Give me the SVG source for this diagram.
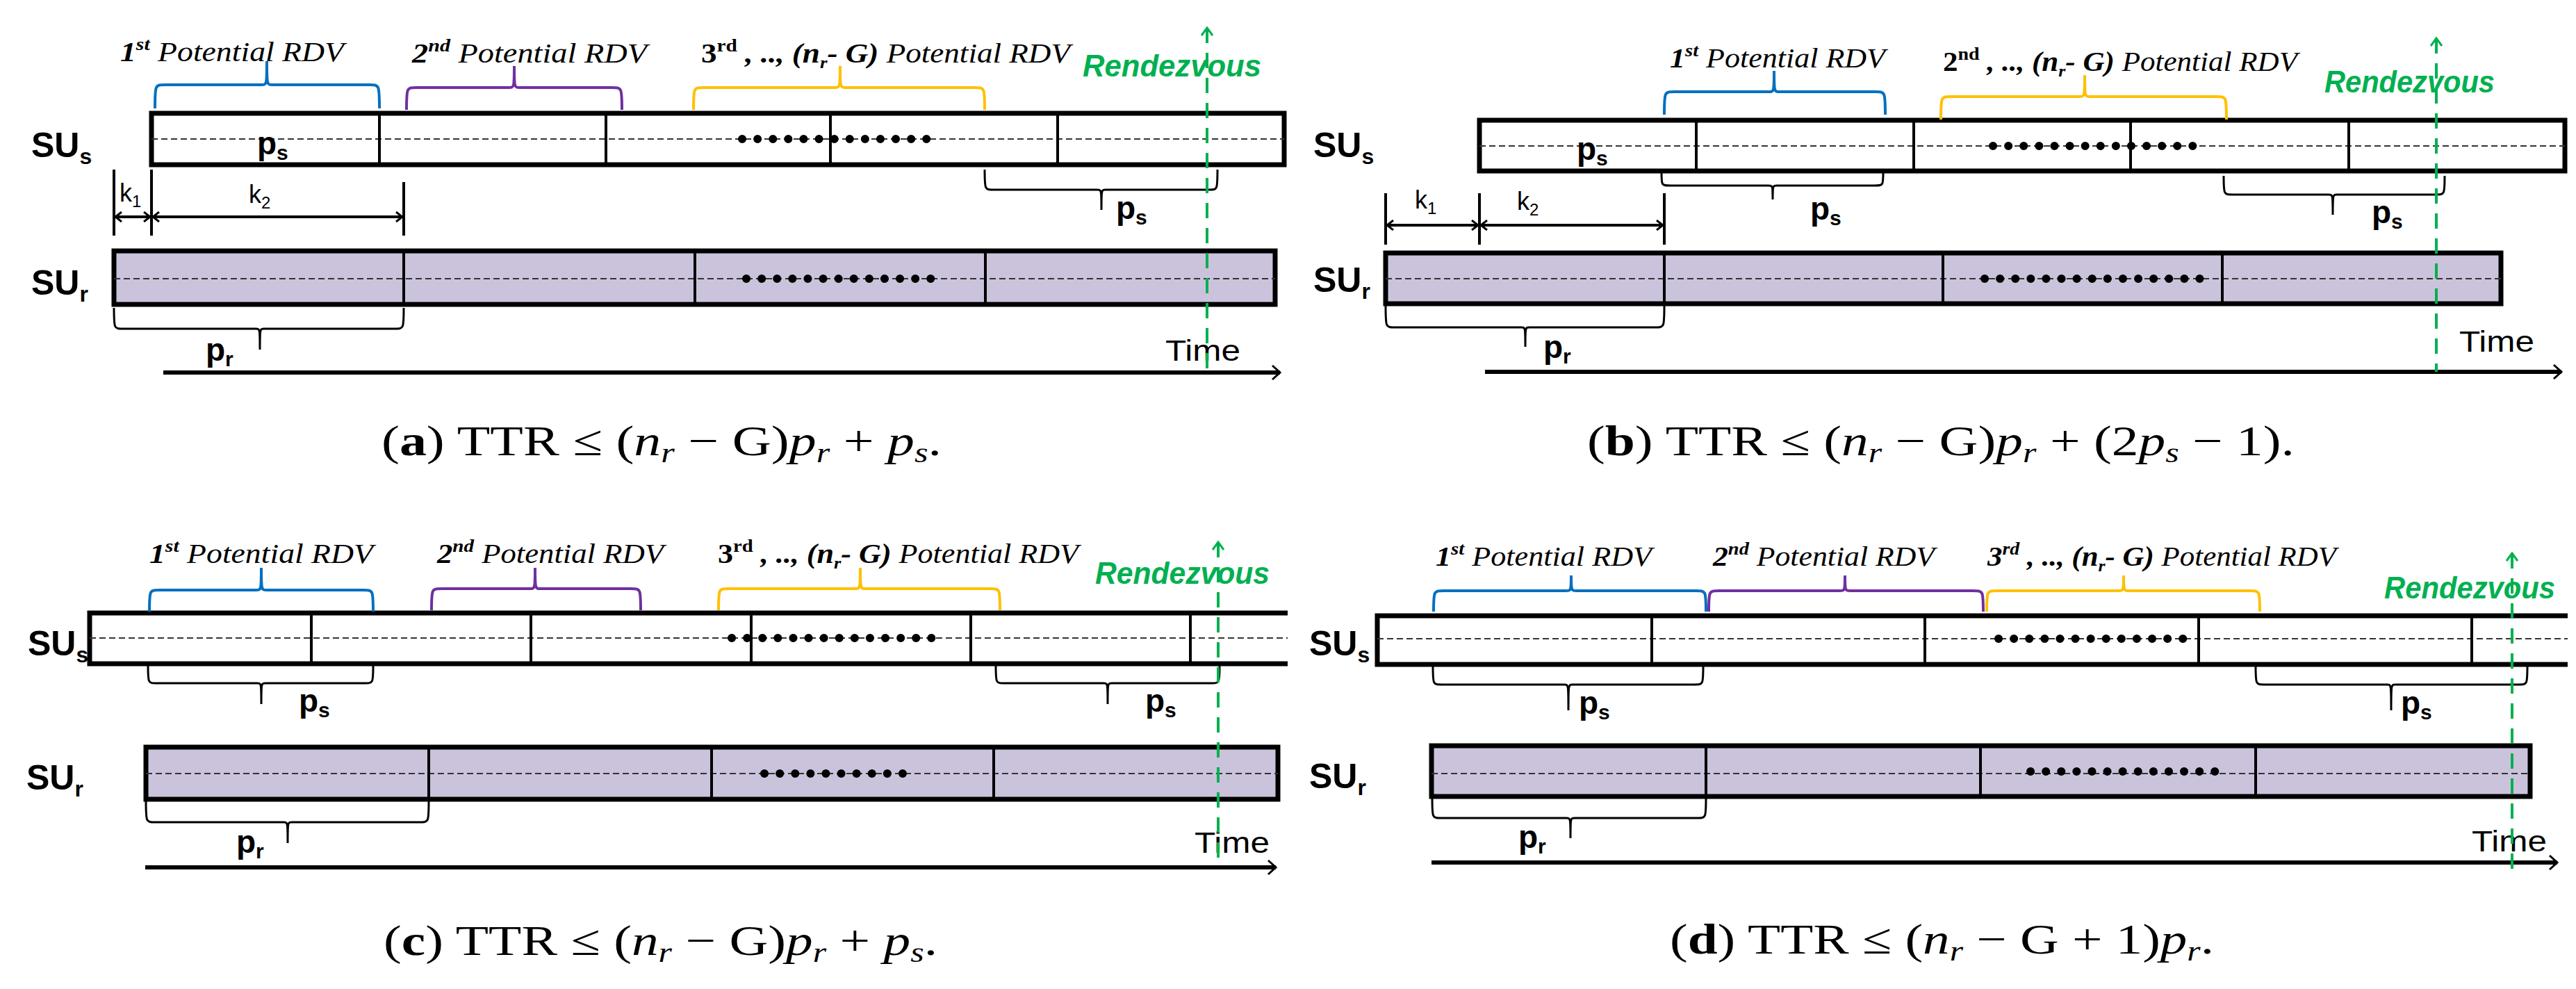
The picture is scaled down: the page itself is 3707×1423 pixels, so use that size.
<svg xmlns="http://www.w3.org/2000/svg" width="3707" height="1423" viewBox="0 0 3707 1423">
<style>
.bar{stroke:#000;stroke-width:7}
.div{stroke:#000;stroke-width:4}
.mid{stroke:#333;stroke-width:2;stroke-dasharray:9 5}
.dots{stroke:#000;stroke-width:12;stroke-dasharray:0.1 22;stroke-linecap:round}
.br{fill:none;stroke-width:4}
.bk{stroke:#000;fill:none;stroke-width:3}
.lab{font-family:"Liberation Sans",sans-serif;font-weight:bold;font-size:50px}
.pl{font-family:"Liberation Sans",sans-serif;font-weight:bold;font-size:46px}
.rdv{font-family:"Liberation Serif",serif;font-style:italic;font-size:40px}
.ren{font-family:"Liberation Sans",sans-serif;font-weight:bold;font-style:italic;font-size:44px;fill:#00b050}
.time{font-family:"Liberation Sans",sans-serif;font-size:42px}
.cap{font-family:"Liberation Serif",serif;font-size:62px}
.k{font-family:"Liberation Sans",sans-serif;font-size:36px}
.grn{stroke:#00b050;stroke-width:4;stroke-dasharray:22 14}
.ax{stroke:#000;stroke-width:6}
</style>
<defs>
<marker id="ch" markerWidth="12" markerHeight="16" refX="10" refY="8" orient="auto-start-reverse" markerUnits="userSpaceOnUse"><path d="M1,1 L10,8 L1,15" fill="none" stroke="#000" stroke-width="3"/></marker>
<marker id="chs" markerWidth="16" markerHeight="24" refX="13" refY="12" orient="auto-start-reverse" markerUnits="userSpaceOnUse"><path d="M2,2 L13,12 L2,22" fill="none" stroke="#000" stroke-width="3"/></marker>
<marker id="gch" markerWidth="14" markerHeight="18" refX="12" refY="9" orient="auto-start-reverse" markerUnits="userSpaceOnUse"><path d="M1,1 L12,9 L1,17" fill="none" stroke="#00b050" stroke-width="3"/></marker>
</defs>

<!-- Panel A -->
<g id="panelA">
<g id="a-sus"><rect x="218" y="163" width="1630" height="74" fill="#fff" class="bar"/>
<line class="mid" x1="218" y1="200" x2="1848" y2="200"/>
<line class="div" x1="546" y1="163" x2="546" y2="237"/><line class="div" x1="872" y1="163" x2="872" y2="237"/><line class="div" x1="1195" y1="163" x2="1195" y2="237"/><line class="div" x1="1522" y1="163" x2="1522" y2="237"/>
<line class="dots" x1="1068" y1="200" x2="1340" y2="200"/>
<text class="pl" x="370" y="222">p<tspan font-size="30" dy="8">s</tspan></text>
<text class="lab" x="45" y="226">SU<tspan font-size="32" dy="10">s</tspan></text></g>
<g id="a-sur"><rect x="164" y="361" width="1671" height="77" fill="#cbc3dc" class="bar"/>
<line class="mid" x1="164" y1="401" x2="1835" y2="401"/>
<line class="div" x1="581" y1="361" x2="581" y2="438"/><line class="div" x1="1000" y1="361" x2="1000" y2="438"/><line class="div" x1="1418" y1="361" x2="1418" y2="438"/>
<line class="dots" x1="1074" y1="401" x2="1345" y2="401"/>
<text class="lab" x="45" y="424">SU<tspan font-size="32" dy="10">r</tspan></text></g>
<g id="a-braces">
<path class="br" stroke="#0070c0" d="M223,156 C223,122 223,122 238,122 H376 C384,122 384,122 384,88 C384,122 384,122 392,122 H531 C546,122 546,122 546,156"/>
<path class="br" stroke="#7030a0" d="M585,158 C585,126 585,126 600,126 H732 C740,126 740,126 740,95 C740,126 740,126 748,126 H880 C895,126 895,126 895,158"/>
<path class="br" stroke="#ffc000" d="M998,158 C998,126 998,126 1013,126 H1201 C1209,126 1209,126 1209,95 C1209,126 1209,126 1217,126 H1402 C1417,126 1417,126 1417,158"/>
<text class="rdv" x="173" y="88" textLength="322" lengthAdjust="spacingAndGlyphs"><tspan font-weight="bold">1</tspan><tspan font-weight="bold" font-size="26" dy="-16">st</tspan><tspan dy="16"> Potential RDV</tspan></text>
<text class="rdv" x="593" y="90" textLength="338" lengthAdjust="spacingAndGlyphs"><tspan font-weight="bold">2</tspan><tspan font-weight="bold" font-size="26" dy="-16">nd</tspan><tspan dy="16"> Potential RDV</tspan></text>
<text class="rdv" x="1009" y="90" textLength="531" lengthAdjust="spacingAndGlyphs"><tspan font-weight="bold" font-style="normal">3</tspan><tspan font-weight="bold" font-style="normal" font-size="26" dy="-16">rd</tspan><tspan font-weight="bold" dy="16"> , .., (n</tspan><tspan font-weight="bold" font-size="24" dy="8">r</tspan><tspan font-weight="bold" dy="-8">- G)</tspan><tspan> Potential RDV</tspan></text>
<path class="bk" d="M1417,244 C1417,273 1417,273 1430,273 H1579 C1585,273 1585,273 1585,302 C1585,273 1585,273 1591,273 H1740 C1752,273 1752,273 1752,244"/>
<text class="pl" x="1606" y="315">p<tspan font-size="30" dy="8">s</tspan></text>
<path class="bk" d="M164,443 C164,473 164,473 177,473 H368 C374,473 374,473 374,503 C374,473 374,473 380,473 H568 C581,473 581,473 581,443"/>
<text class="pl" x="296" y="519">p<tspan font-size="30" dy="8">r</tspan></text>
</g>
<g id="a-k"><line class="div" x1="164" y1="244" x2="164" y2="339" stroke-width="3"/><line class="div" x1="218" y1="244" x2="218" y2="339" stroke-width="3"/><line class="div" x1="581" y1="262" x2="581" y2="339" stroke-width="3"/>
<line x1="166" y1="312" x2="216" y2="312" stroke="#000" stroke-width="4" marker-start="url(#ch)" marker-end="url(#ch)"/>
<line x1="220" y1="312" x2="579" y2="312" stroke="#000" stroke-width="4" marker-start="url(#ch)" marker-end="url(#ch)"/>
<text class="k" x="172" y="290">k<tspan font-size="24" dy="8">1</tspan></text>
<text class="k" x="358" y="292">k<tspan font-size="24" dy="8">2</tspan></text></g>
<g id="a-time"><line class="ax" x1="235" y1="536" x2="1842" y2="536" marker-end="url(#chs)"/><text class="time" x="1677" y="519" textLength="108" lengthAdjust="spacingAndGlyphs">Time</text></g>
<g id="a-rdv"><line class="grn" x1="1737" y1="40" x2="1737" y2="537" marker-start="url(#gch)"/><text class="ren" x="1558" y="110" textLength="257" lengthAdjust="spacingAndGlyphs">Rendezvous</text></g>
<text class="cap" x="549" y="655" textLength="806" lengthAdjust="spacingAndGlyphs">(<tspan font-weight="bold">a</tspan>) TTR ≤ (<tspan font-style="italic">n</tspan><tspan font-style="italic" font-size="40" dy="10">r</tspan><tspan dy="-10"> − G)</tspan><tspan font-style="italic">p</tspan><tspan font-style="italic" font-size="40" dy="10">r</tspan><tspan dy="-10"> + </tspan><tspan font-style="italic">p</tspan><tspan font-style="italic" font-size="40" dy="10">s</tspan><tspan dy="-10">.</tspan></text>
</g>

<!-- Panel B -->
<g id="panelB">
<g id="b-sus"><rect x="2129" y="173" width="1562" height="73" fill="#fff" class="bar"/>
<line class="mid" x1="2129" y1="210" x2="3691" y2="210"/>
<line class="div" x1="2441" y1="173" x2="2441" y2="246" stroke-width="6"/><line class="div" x1="2754" y1="173" x2="2754" y2="246"/><line class="div" x1="3066" y1="173" x2="3066" y2="246"/><line class="div" x1="3380" y1="173" x2="3380" y2="246"/>
<line class="dots" x1="2868" y1="210" x2="3160" y2="210"/>
<text class="pl" x="2269" y="230">p<tspan font-size="30" dy="8">s</tspan></text>
<text class="lab" x="1890" y="226">SU<tspan font-size="32" dy="10">s</tspan></text></g>
<g id="b-sur"><rect x="1994" y="364" width="1605" height="73" fill="#cbc3dc" class="bar"/>
<line class="mid" x1="1994" y1="401" x2="3599" y2="401"/>
<line class="div" x1="2395" y1="364" x2="2395" y2="437"/><line class="div" x1="2796" y1="364" x2="2796" y2="437"/><line class="div" x1="3198" y1="364" x2="3198" y2="437"/>
<line class="dots" x1="2856" y1="401" x2="3166" y2="401"/>
<text class="lab" x="1890" y="420">SU<tspan font-size="32" dy="10">r</tspan></text></g>
<g id="b-braces">
<path class="br" stroke="#0070c0" d="M2395,165 C2395,132 2395,132 2410,132 H2545 C2553,132 2553,132 2553,102 C2553,132 2553,132 2561,132 H2698 C2713,132 2713,132 2713,165"/>
<path class="br" stroke="#ffc000" d="M2793,172 C2793,139 2793,139 2808,139 H2992 C3000,139 3000,139 3000,108 C3000,139 3000,139 3008,139 H3189 C3204,139 3204,139 3204,172"/>
<text class="rdv" x="2403" y="97" textLength="310" lengthAdjust="spacingAndGlyphs"><tspan font-weight="bold">1</tspan><tspan font-weight="bold" font-size="26" dy="-16">st</tspan><tspan dy="16"> Potential RDV</tspan></text>
<text class="rdv" x="2796" y="102" textLength="510" lengthAdjust="spacingAndGlyphs"><tspan font-weight="bold" font-style="normal">2</tspan><tspan font-weight="bold" font-style="normal" font-size="26" dy="-16">nd</tspan><tspan font-weight="bold" dy="16"> , .., (n</tspan><tspan font-weight="bold" font-size="24" dy="8">r</tspan><tspan font-weight="bold" dy="-8">- G)</tspan><tspan> Potential RDV</tspan></text>
<path class="bk" d="M2391,248 C2391,267 2391,267 2404,267 H2545 C2551,267 2551,267 2551,287 C2551,267 2551,267 2557,267 H2697 C2710,267 2710,267 2710,248"/>
<text class="pl" x="2605" y="316">p<tspan font-size="30" dy="8">s</tspan></text>
<path class="bk" d="M3200,253 C3200,280 3200,280 3213,280 H3351 C3357,280 3357,280 3357,309 C3357,280 3357,280 3363,280 H3505 C3518,280 3518,280 3518,253"/>
<text class="pl" x="3413" y="321">p<tspan font-size="30" dy="8">s</tspan></text>
<path class="bk" d="M1994,440 C1994,471 1994,471 2007,471 H2189 C2195,471 2195,471 2195,499 C2195,471 2195,471 2201,471 H2382 C2395,471 2395,471 2395,440"/>
<text class="pl" x="2221" y="515">p<tspan font-size="30" dy="8">r</tspan></text>
</g>
<g id="b-k"><line class="div" x1="1994" y1="278" x2="1994" y2="352" stroke-width="3"/><line class="div" x1="2129" y1="278" x2="2129" y2="352" stroke-width="3"/><line class="div" x1="2395" y1="278" x2="2395" y2="352" stroke-width="3"/>
<line x1="1996" y1="324" x2="2127" y2="324" stroke="#000" stroke-width="4" marker-start="url(#ch)" marker-end="url(#ch)"/>
<line x1="2131" y1="324" x2="2393" y2="324" stroke="#000" stroke-width="4" marker-start="url(#ch)" marker-end="url(#ch)"/>
<text class="k" x="2036" y="300">k<tspan font-size="24" dy="8">1</tspan></text>
<text class="k" x="2183" y="302">k<tspan font-size="24" dy="8">2</tspan></text></g>
<g id="b-time"><line class="ax" x1="2137" y1="535" x2="3686" y2="535" marker-end="url(#chs)"/><text class="time" x="3539" y="506" textLength="108" lengthAdjust="spacingAndGlyphs">Time</text></g>
<g id="b-rdv"><line class="grn" x1="3506" y1="55" x2="3506" y2="535" marker-start="url(#gch)"/><text class="ren" x="3345" y="133" textLength="245" lengthAdjust="spacingAndGlyphs">Rendezvous</text></g>
<text class="cap" x="2284" y="655" textLength="1018" lengthAdjust="spacingAndGlyphs">(<tspan font-weight="bold">b</tspan>) TTR ≤ (<tspan font-style="italic">n</tspan><tspan font-style="italic" font-size="40" dy="10">r</tspan><tspan dy="-10"> − G)</tspan><tspan font-style="italic">p</tspan><tspan font-style="italic" font-size="40" dy="10">r</tspan><tspan dy="-10"> + (2</tspan><tspan font-style="italic">p</tspan><tspan font-style="italic" font-size="40" dy="10">s</tspan><tspan dy="-10"> − 1).</tspan></text>
</g>

<!-- Panel C -->
<g id="panelC">
<g id="c-sus"><rect x="129" y="882" width="1724" height="73" fill="#fff"/>
<path d="M1853,882 H129 V955 H1853" fill="none" class="bar"/>
<line class="mid" x1="129" y1="918" x2="1853" y2="918"/>
<line class="div" x1="448" y1="882" x2="448" y2="955"/><line class="div" x1="764" y1="882" x2="764" y2="955"/><line class="div" x1="1081" y1="882" x2="1081" y2="955"/><line class="div" x1="1397" y1="882" x2="1397" y2="955"/><line class="div" x1="1713" y1="882" x2="1713" y2="955"/>
<line class="dots" x1="1053" y1="918" x2="1358" y2="918"/>
<text class="lab" x="40" y="943">SU<tspan font-size="32" dy="10">s</tspan></text></g>
<g id="c-sur"><rect x="210" y="1075" width="1629" height="75" fill="#cbc3dc" class="bar"/>
<line class="mid" x1="210" y1="1113" x2="1839" y2="1113"/>
<line class="div" x1="617" y1="1075" x2="617" y2="1150"/><line class="div" x1="1024" y1="1075" x2="1024" y2="1150"/><line class="div" x1="1430" y1="1075" x2="1430" y2="1150"/>
<line class="dots" x1="1100" y1="1113" x2="1306" y2="1113"/>
<text class="lab" x="38" y="1136">SU<tspan font-size="32" dy="10">r</tspan></text></g>
<g id="c-braces">
<path class="br" stroke="#0070c0" d="M215,880 C215,849 215,849 230,849 H368 C376,849 376,849 376,817 C376,849 376,849 384,849 H522 C537,849 537,849 537,880"/>
<path class="br" stroke="#7030a0" d="M621,878 C621,847 621,847 636,847 H762 C770,847 770,847 770,817 C770,847 770,847 778,847 H907 C922,847 922,847 922,878"/>
<path class="br" stroke="#ffc000" d="M1034,878 C1034,847 1034,847 1049,847 H1230 C1238,847 1238,847 1238,817 C1238,847 1238,847 1246,847 H1424 C1439,847 1439,847 1439,878"/>
<text class="rdv" x="215" y="810" textLength="322" lengthAdjust="spacingAndGlyphs"><tspan font-weight="bold">1</tspan><tspan font-weight="bold" font-size="26" dy="-16">st</tspan><tspan dy="16"> Potential RDV</tspan></text>
<text class="rdv" x="629" y="810" textLength="326" lengthAdjust="spacingAndGlyphs"><tspan font-weight="bold">2</tspan><tspan font-weight="bold" font-size="26" dy="-16">nd</tspan><tspan dy="16"> Potential RDV</tspan></text>
<text class="rdv" x="1033" y="810" textLength="519" lengthAdjust="spacingAndGlyphs"><tspan font-weight="bold" font-style="normal">3</tspan><tspan font-weight="bold" font-style="normal" font-size="26" dy="-16">rd</tspan><tspan font-weight="bold" dy="16"> , .., (n</tspan><tspan font-weight="bold" font-size="24" dy="8">r</tspan><tspan font-weight="bold" dy="-8">- G)</tspan><tspan> Potential RDV</tspan></text>
<path class="bk" d="M213,958 C213,983 213,983 226,983 H370 C376,983 376,983 376,1013 C376,983 376,983 382,983 H524 C537,983 537,983 537,958"/>
<text class="pl" x="430" y="1024">p<tspan font-size="30" dy="8">s</tspan></text>
<path class="bk" d="M1433,958 C1433,983 1433,983 1446,983 H1588 C1594,983 1594,983 1594,1013 C1594,983 1594,983 1600,983 H1742 C1755,983 1755,983 1755,958"/>
<text class="pl" x="1648" y="1024">p<tspan font-size="30" dy="8">s</tspan></text>
<path class="bk" d="M210,1152 C210,1183 210,1183 223,1183 H408 C414,1183 414,1183 414,1213 C414,1183 414,1183 420,1183 H604 C617,1183 617,1183 617,1152"/>
<text class="pl" x="340" y="1227">p<tspan font-size="30" dy="8">r</tspan></text>
</g>
<g id="c-time"><line class="ax" x1="209" y1="1248" x2="1836" y2="1248" marker-end="url(#chs)"/><text class="time" x="1719" y="1227" textLength="108" lengthAdjust="spacingAndGlyphs">Time</text></g>
<g id="c-rdv"><line class="grn" x1="1753" y1="780" x2="1753" y2="1246" marker-start="url(#gch)"/><text class="ren" x="1576" y="840" textLength="251" lengthAdjust="spacingAndGlyphs">Rendezvous</text></g>
<text class="cap" x="552" y="1374" textLength="797" lengthAdjust="spacingAndGlyphs">(<tspan font-weight="bold">c</tspan>) TTR ≤ (<tspan font-style="italic">n</tspan><tspan font-style="italic" font-size="40" dy="10">r</tspan><tspan dy="-10"> − G)</tspan><tspan font-style="italic">p</tspan><tspan font-style="italic" font-size="40" dy="10">r</tspan><tspan dy="-10"> + </tspan><tspan font-style="italic">p</tspan><tspan font-style="italic" font-size="40" dy="10">s</tspan><tspan dy="-10">.</tspan></text>
</g>

<!-- Panel D -->
<g id="panelD">
<g id="d-sus"><rect x="1982" y="886" width="1713" height="70" fill="#fff"/>
<path d="M3695,886 H1982 V956 H3695" fill="none" class="bar"/>
<line class="mid" x1="1982" y1="919" x2="3695" y2="919"/>
<line class="div" x1="2377" y1="886" x2="2377" y2="956"/><line class="div" x1="2770" y1="886" x2="2770" y2="956"/><line class="div" x1="3164" y1="886" x2="3164" y2="956"/><line class="div" x1="3557" y1="886" x2="3557" y2="956"/>
<line class="dots" x1="2876" y1="919" x2="3146" y2="919"/>
<text class="lab" x="1884" y="943">SU<tspan font-size="32" dy="10">s</tspan></text></g>
<g id="d-sur"><rect x="2060" y="1073" width="1581" height="73" fill="#cbc3dc" class="bar"/>
<line class="mid" x1="2060" y1="1113" x2="3641" y2="1113"/>
<line class="div" x1="2455" y1="1073" x2="2455" y2="1146"/><line class="div" x1="2850" y1="1073" x2="2850" y2="1146"/><line class="div" x1="3246" y1="1073" x2="3246" y2="1146"/>
<line class="dots" x1="2922" y1="1110" x2="3200" y2="1110"/>
<text class="lab" x="1884" y="1134">SU<tspan font-size="32" dy="10">r</tspan></text></g>
<g id="d-braces">
<path class="br" stroke="#0070c0" d="M2063,880 C2063,850 2063,850 2078,850 H2253 C2261,850 2261,850 2261,828 C2261,850 2261,850 2269,850 H2440 C2455,850 2455,850 2455,880"/>
<path class="br" stroke="#7030a0" d="M2459,880 C2459,850 2459,850 2474,850 H2647 C2655,850 2655,850 2655,828 C2655,850 2655,850 2663,850 H2839 C2854,850 2854,850 2854,880"/>
<path class="br" stroke="#ffc000" d="M2859,880 C2859,850 2859,850 2874,850 H3048 C3056,850 3056,850 3056,828 C3056,850 3056,850 3064,850 H3237 C3252,850 3252,850 3252,880"/>
<text class="rdv" x="2066" y="814" textLength="311" lengthAdjust="spacingAndGlyphs"><tspan font-weight="bold">1</tspan><tspan font-weight="bold" font-size="26" dy="-16">st</tspan><tspan dy="16"> Potential RDV</tspan></text>
<text class="rdv" x="2465" y="814" textLength="319" lengthAdjust="spacingAndGlyphs"><tspan font-weight="bold">2</tspan><tspan font-weight="bold" font-size="26" dy="-16">nd</tspan><tspan dy="16"> Potential RDV</tspan></text>
<text class="rdv" x="2860" y="814" textLength="502" lengthAdjust="spacingAndGlyphs"><tspan font-weight="bold">3</tspan><tspan font-weight="bold" font-size="26" dy="-16">rd</tspan><tspan font-weight="bold" dy="16"> , .., (n</tspan><tspan font-weight="bold" font-size="24" dy="8">r</tspan><tspan font-weight="bold" dy="-8">- G)</tspan><tspan> Potential RDV</tspan></text>
<path class="bk" d="M2062,958 C2062,985 2062,985 2075,985 H2251 C2257,985 2257,985 2257,1022 C2257,985 2257,985 2263,985 H2438 C2451,985 2451,985 2451,958"/>
<text class="pl" x="2272" y="1027">p<tspan font-size="30" dy="8">s</tspan></text>
<path class="bk" d="M3246,958 C3246,985 3246,985 3259,985 H3435 C3441,985 3441,985 3441,1022 C3441,985 3441,985 3447,985 H3624 C3637,985 3637,985 3637,958"/>
<text class="pl" x="3455" y="1027">p<tspan font-size="30" dy="8">s</tspan></text>
<path class="bk" d="M2061,1148 C2061,1177 2061,1177 2074,1177 H2254 C2260,1177 2260,1177 2260,1206 C2260,1177 2260,1177 2266,1177 H2442 C2455,1177 2455,1177 2455,1148"/>
<text class="pl" x="2185" y="1220">p<tspan font-size="30" dy="8">r</tspan></text>
</g>
<g id="d-time"><line class="ax" x1="2060" y1="1241" x2="3680" y2="1241" marker-end="url(#chs)"/><text class="time" x="3557" y="1225" textLength="108" lengthAdjust="spacingAndGlyphs">Time</text></g>
<g id="d-rdv"><line class="grn" x1="3615" y1="796" x2="3615" y2="1253" marker-start="url(#gch)"/><text class="ren" x="3431" y="861" textLength="246" lengthAdjust="spacingAndGlyphs">Rendezvous</text></g>
<text class="cap" x="2403" y="1372" textLength="783" lengthAdjust="spacingAndGlyphs">(<tspan font-weight="bold">d</tspan>) TTR ≤ (<tspan font-style="italic">n</tspan><tspan font-style="italic" font-size="40" dy="10">r</tspan><tspan dy="-10"> − G + 1)</tspan><tspan font-style="italic">p</tspan><tspan font-style="italic" font-size="40" dy="10">r</tspan><tspan dy="-10">.</tspan></text>
</g>
</svg>
